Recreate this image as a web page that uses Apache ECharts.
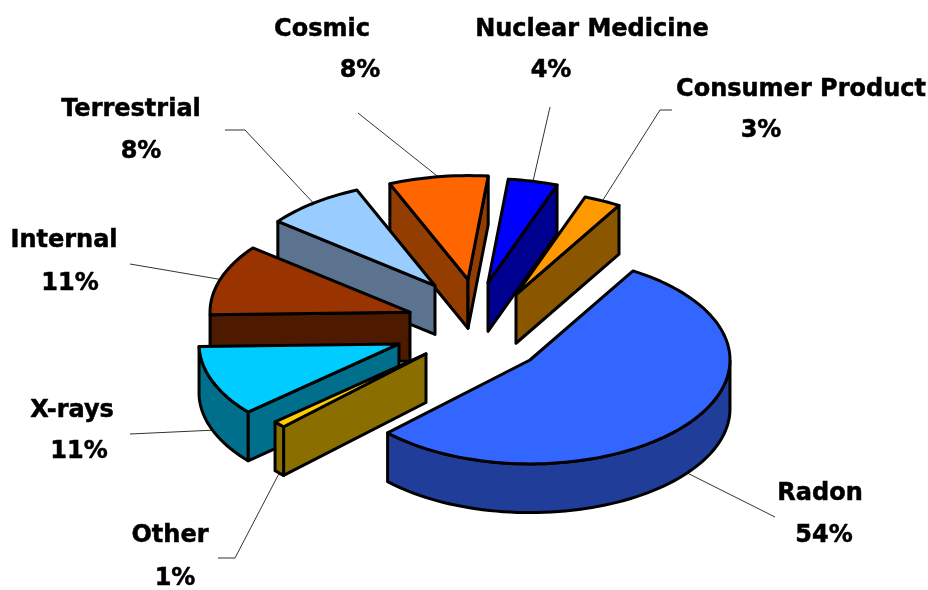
<!DOCTYPE html>
<html><head><meta charset="utf-8">
<style>html,body{margin:0;padding:0;background:#fff}#c{width:928px;height:590px}</style>
<script src="https://cdn.jsdelivr.net/npm/echarts@6/dist/echarts.min.js"></script>
</head><body><div id="c"></div>
<script>
// --- data (pie order, clockwise from the start angle)
const names  = ['Radon','Other','X-rays','Internal','Terrestrial','Cosmic','Nuclear Medicine','Consumer Product'];
const values = [54,1,11,11,8,8,4,3];

// --- colours
const topColors  = ['#3366FF','#FFCC00','#00CCFF','#993300','#99CCFF','#FF6600','#0000FF','#FF9900'];
const sideColors = ['#1F3D99','#8A6F00','#006F8C','#4D1A00','#5C7390','#933D00','#000090','#8A5700'];

// --- layout
const paintOrder = [6,7,5,4,3,2,1,0];
const startAngle = 59, radius = 200, depth = 57, elevation = 31.3;
const centre = [470,320];
const explodeX = [60,-44,-71,-60,-35,-2,18,46];
const explodeY = [-77,-65,-46,15,66,78,72,49];
const namePos  = [[820,494],[170,536],[72,411],[64,241],[131,110],[322,30],[592,30],[801,90]];
const valuePos = [[824,536],[175,579],[79,452],[70,284],[141,152],[360,71],[551,71],[761,131]];
const leaderBends = [
  [[775,517]],
  [[235,558],[218,558]],
  [[130,434]],
  [[130,264]],
  [[245,130],[225,130]],
  [[358,113]],
  [[550,107]],
  [[660,110],[672,110]]
];
const labelFont = 'bold 24px "DejaVu Sans", sans-serif';

const total = values.reduce((a,b)=>a+b,0);
const rad = d => d*Math.PI/180;
const se = Math.sin(rad(elevation)), ce = Math.cos(rad(elevation));
function project(X,Y,Z){
  return [centre[0]+X, centre[1]-(Y*se+Z*ce)];
}
function sliceAngles(i){
  let before = 0;
  for(let k=0;k<i;k++) before += values[k];
  const t0 = startAngle - before/total*360;
  const t1 = t0 - values[i]/total*360;
  return [t0,t1];
}
function rimPoint(i,t,Z){
  return project(explodeX[i]+radius*Math.cos(rad(t)), explodeY[i]+radius*Math.sin(rad(t)), Z);
}
function renderSlice(params,api){
  const i = api.value(0);
  const [t0,t1] = sliceAngles(i);
  const h = -depth, X0 = explodeX[i], Y0 = explodeY[i];
  const apexTop = project(X0,Y0,0), apexBot = project(X0,Y0,h);
  const line = {stroke:'#000',lineWidth:3,lineJoin:'round'};
  const poly = (pts,fill)=>({type:'polygon',shape:{points:pts},style:Object.assign({fill},line)});
  const kids = [];
  // radial walls facing the viewer
  if(Math.cos(rad(t0))<0) kids.push(poly([apexTop,rimPoint(i,t0,0),rimPoint(i,t0,h),apexBot],sideColors[i]));
  if(Math.cos(rad(t1))>0) kids.push(poly([apexTop,rimPoint(i,t1,0),rimPoint(i,t1,h),apexBot],sideColors[i]));
  // outer wall: only the front half of the rim
  const upper=[],lower=[];
  const n = Math.max(2,Math.ceil((t0-t1)/2));
  for(let k=0;k<=n;k++){
    const t = t0+(t1-t0)*k/n;
    if(Math.sin(rad(t))<=0){ upper.push(rimPoint(i,t,0)); lower.unshift(rimPoint(i,t,h)); }
  }
  if(upper.length>1) kids.push(poly(upper.concat(lower),sideColors[i]));
  // top face
  const face=[apexTop];
  for(let k=0;k<=n;k++) face.push(rimPoint(i,t0+(t1-t0)*k/n,0));
  kids.push(poly(face,topColors[i]));
  return {type:'group',children:kids};
}
function renderLeader(params,api){
  const i = api.value(0);
  const [t0,t1] = sliceAngles(i);
  const mid = (t0+t1)/2;
  const start = rimPoint(i,mid,Math.sin(rad(mid))<0?-depth:0);
  const text = (p,s)=>({type:'text',style:{x:p[0],y:p[1],text:s,font:labelFont,fill:'#000',stroke:'#000',lineWidth:0.5,textAlign:'center',textVerticalAlign:'middle'}});
  return {type:'group',children:[
    {type:'polyline',shape:{points:[start].concat(leaderBends[i])},style:{stroke:'#333',lineWidth:1,fill:null}},
    text(namePos[i],names[i]),
    text(valuePos[i],values[i]+'%')
  ]};
}
const chart = echarts.init(document.getElementById('c'),null,{renderer:'canvas'});
chart.setOption({
  backgroundColor:'#fff',
  animation:false,
  series:[
    {type:'custom',coordinateSystem:'none',renderItem:renderLeader,silent:true,z:1,
     data:names.map((n,i)=>({name:n,value:[i,values[i]]}))},
    {type:'custom',coordinateSystem:'none',renderItem:renderSlice,silent:true,z:2,
     data:paintOrder.map(i=>({name:names[i],value:[i,values[i]]}))}
  ]
});
</script></body></html>
